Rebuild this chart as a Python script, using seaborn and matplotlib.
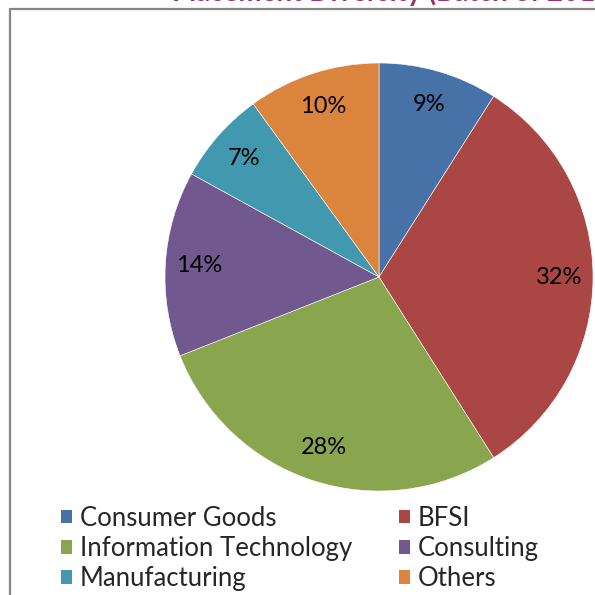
import matplotlib
matplotlib.use("Agg")
import matplotlib.pyplot as plt
import seaborn as sns
from matplotlib.lines import Line2D

sectors = ["Consumer Goods", "BFSI", "Information Technology",
           "Consulting", "Manufacturing", "Others"]
shares = [9, 32, 28, 14, 7, 10]
sector_colors = ["#4672A8", "#AA4644", "#89A54E", "#71588F", "#4198AF", "#DB843D"]
title = "Placement Diversity (Batch of 2012)"

W = H = 595


def plot_pie():
    sns.set_style("white")
    plt.rcParams['font.family'] = ['Lato', 'DejaVu Sans']
    palette = sns.color_palette(sector_colors)

    fig = plt.figure(figsize=(W / 100, H / 100), dpi=100)
    ax = fig.add_axes([0, 0, 1, 1])

    wedges, _, autotexts = ax.pie(
        shares, colors=palette, startangle=90, counterclock=False,
        center=(379, H - 277), radius=214,
        autopct=lambda p: f"{p:.0f}%", pctdistance=0.84,
        wedgeprops=dict(edgecolor="white", linewidth=0.4),
        textprops=dict(fontsize=17, color="black"))
    ax.set_xlim(0, W)
    ax.set_ylim(0, H)
    ax.set_axis_off()

    # outer chart frame (cropped on the right and bottom)
    fig.add_artist(Line2D([9.5 / W, 9.5 / W], [0, 1 - 8.5 / H],
                          transform=fig.transFigure, color="#868686", lw=1.6))
    fig.add_artist(Line2D([9.5 / W, 1], [1 - 8.5 / H, 1 - 8.5 / H],
                          transform=fig.transFigure, color="#868686", lw=1.6))

    # title, mostly cut off at the top edge
    fig.text(172 / W, 1 - 1 / H, title, ha="left", va="baseline",
             fontsize=20, fontweight="bold", color="#9E2F66")

    # legend in row order
    order = [0, 2, 4, 1, 3, 5]
    leg = fig.legend([wedges[i] for i in order], [sectors[i] for i in order],
                     ncol=2, loc="upper left", bbox_to_anchor=(61 / W, 1 - 506 / H),
                     frameon=False, fontsize=18.5, handlelength=0.42, handleheight=0.42,
                     handletextpad=0.3, labelspacing=0.2, columnspacing=1.85,
                     borderaxespad=0, borderpad=0)
    for h in leg.legend_handles:
        h.set_edgecolor("none")

    fig.savefig("out.png", dpi=100)


if __name__ == "__main__":
    plot_pie()
